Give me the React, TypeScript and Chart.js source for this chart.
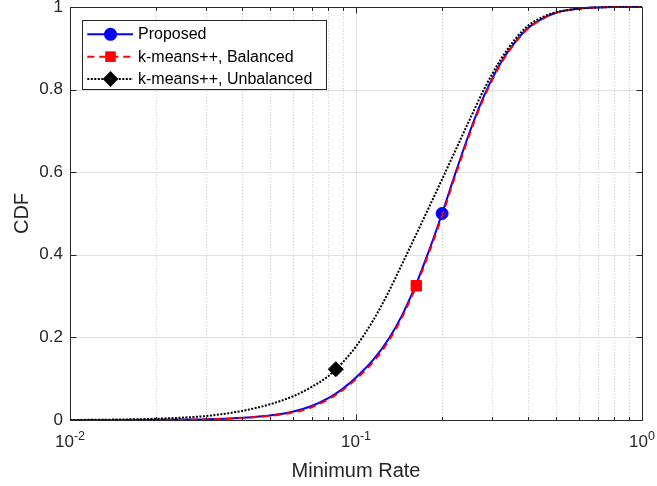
import React, { useEffect, useRef } from 'react';
import { Chart, registerables } from 'chart.js';

Chart.register(...registerables);

// ---------- data ----------
const xValues = [
  0.01, 0.015, 0.02, 0.025, 0.03, 0.04, 0.05, 0.06, 0.07, 0.08, 0.085, 0.09,
  0.1, 0.115, 0.13, 0.145, 0.1625, 0.18, 0.2, 0.22, 0.25, 0.28, 0.32, 0.36,
  0.4, 0.45, 0.5, 0.6, 0.7, 0.8, 0.9, 1.0,
];
const proposed = [
  0, 0.0002, 0.0005, 0.001, 0.0017, 0.0055, 0.011, 0.02, 0.034, 0.053, 0.064, 0.076,
  0.103, 0.146, 0.196, 0.254, 0.33, 0.41, 0.5, 0.587, 0.698, 0.784, 0.864, 0.915,
  0.949, 0.972, 0.986, 0.996, 0.999, 1, 1, 1,
];
const balanced = [
  0, 0.0001, 0.0004, 0.0008, 0.0014, 0.0048, 0.0098, 0.018, 0.031, 0.05, 0.061, 0.073,
  0.099, 0.141, 0.191, 0.249, 0.325, 0.405, 0.494, 0.581, 0.693, 0.78, 0.861, 0.913,
  0.948, 0.972, 0.986, 0.996, 0.999, 1, 1, 1,
];
const unbalanced = [
  0, 0.0012, 0.003, 0.006, 0.0097, 0.022, 0.038, 0.057, 0.08, 0.106, 0.123, 0.14,
  0.178, 0.242, 0.31, 0.378, 0.45, 0.515, 0.583, 0.645, 0.728, 0.8, 0.872, 0.922,
  0.955, 0.976, 0.987, 0.996, 0.999, 1, 1, 1,
];
const seriesNames = ['Proposed', 'k-means++, Balanced', 'k-means++, Unbalanced'];
const markerX = [0.2, 0.1625, 0.085];
const xTickValues = [0.01, 0.1, 1];
const yTickValues = [0, 0.2, 0.4, 0.6, 0.8, 1];
const xTitle = 'Minimum Rate';
const yTitle = 'CDF';

// ---------- styles ----------
const FONT = '"Liberation Sans", Arial, Helvetica, sans-serif';
const AXIS_COLOR = '#262626';
const styles = [
  { color: '#0000ff', dash: [] as number[], point: 'circle', radius: 6 },
  { color: '#ff0000', dash: [7, 5], point: 'rect', radius: 7.4 },
  { color: '#000000', dash: [2, 1.5], point: 'rectRot', radius: 7.5 },
];

const seriesValues = [proposed, balanced, unbalanced];

const matlabPlugin = {
  id: 'matlabAxes',
  beforeDatasetsDraw(chart: any) {
    const { ctx, chartArea, scales } = chart;
    const { left, right, top, bottom } = chartArea;
    const x = scales.x;
    const y = scales.y;
    ctx.save();
    ctx.lineWidth = 1;
    for (let e = -2; e < 0; e++) {
      const d = Math.pow(10, e);
      for (let m = 1; m <= 9; m++) {
        const v = d * m;
        const px = Math.round(x.getPixelForValue(v)) + 0.5;
        ctx.beginPath();
        if (m === 1) {
          ctx.setLineDash([]);
          ctx.strokeStyle = '#dfdfdf';
        } else {
          ctx.setLineDash([1, 2]);
          ctx.strokeStyle = '#cfcfcf';
        }
        ctx.moveTo(px, top);
        ctx.lineTo(px, bottom);
        ctx.stroke();
      }
    }
    ctx.setLineDash([]);
    ctx.strokeStyle = '#dfdfdf';
    for (const v of yTickValues) {
      if (v === 0 || v === 1) continue;
      const py = Math.round(y.getPixelForValue(v)) + 0.5;
      ctx.beginPath();
      ctx.moveTo(left, py);
      ctx.lineTo(right, py);
      ctx.stroke();
    }
    ctx.restore();
  },
  afterDatasetsDraw(chart: any) {
    const { ctx, scales } = chart;
    const x = scales.x;
    const y = scales.y;
    const l = Math.round(x.getPixelForValue(xTickValues[0])) + 0.5;
    const r = Math.round(x.getPixelForValue(xTickValues[xTickValues.length - 1])) + 0.5;
    const b = Math.round(y.getPixelForValue(0)) + 0.5;
    const t = Math.round(y.getPixelForValue(1)) + 0.5;
    ctx.save();
    ctx.strokeStyle = AXIS_COLOR;
    ctx.lineWidth = 1;
    ctx.setLineDash([]);
    ctx.beginPath();
    ctx.rect(l, t, r - l, b - t);
    ctx.stroke();
    ctx.beginPath();
    for (let e = -2; e < 0; e++) {
      const d = Math.pow(10, e);
      for (let m = 1; m <= 9; m++) {
        const px = Math.round(x.getPixelForValue(d * m)) + 0.5;
        const len = m === 1 ? 6 : 3.5;
        ctx.moveTo(px, b);
        ctx.lineTo(px, b - len);
        ctx.moveTo(px, t);
        ctx.lineTo(px, t + len);
      }
    }
    for (const v of yTickValues) {
      const py = Math.round(y.getPixelForValue(v)) + 0.5;
      ctx.moveTo(l, py);
      ctx.lineTo(l + 6, py);
      ctx.moveTo(r, py);
      ctx.lineTo(r - 6, py);
    }
    ctx.stroke();
    ctx.restore();
  },
  afterDraw(chart: any) {
    const { ctx, chartArea, scales } = chart;
    const x = scales.x;
    ctx.save();
    ctx.fillStyle = AXIS_COLOR;
    ctx.textBaseline = 'alphabetic';
    ctx.textAlign = 'left';
    const baseY = chartArea.bottom + 26.5;
    for (const v of xTickValues) {
      const px = x.getPixelForValue(v);
      const exp = String(Math.round(Math.log10(v)));
      ctx.font = `17px ${FONT}`;
      const w1 = ctx.measureText('10').width;
      ctx.font = `12.5px ${FONT}`;
      const w2 = ctx.measureText(exp).width;
      const start = px - (w1 + w2) / 2;
      ctx.font = `17px ${FONT}`;
      ctx.fillText('10', start, baseY);
      ctx.font = `12.5px ${FONT}`;
      ctx.fillText(exp, start + w1, baseY - 7);
    }
    // legend
    ctx.font = `16px ${FONT}`;
    let maxW = 0;
    for (const n of seriesNames) maxW = Math.max(maxW, ctx.measureText(n).width);
    const bx = Math.round(chartArea.left + 12) + 0.5;
    const by = Math.round(chartArea.top + 13) + 0.5;
    const bw = Math.round(55.5 + maxW + 14);
    const bh = 69;
    ctx.fillStyle = '#ffffff';
    ctx.fillRect(bx, by, bw, bh);
    ctx.strokeStyle = AXIS_COLOR;
    ctx.lineWidth = 1;
    ctx.setLineDash([]);
    ctx.strokeRect(bx, by, bw, bh);
    for (let i = 0; i < seriesNames.length; i++) {
      const st = styles[i];
      const cy = by + 13.8 + i * 22.35;
      ctx.strokeStyle = st.color;
      ctx.lineWidth = 2;
      ctx.lineCap = 'butt';
      ctx.setLineDash(st.dash);
      ctx.beginPath();
      ctx.moveTo(bx + 4.8, cy);
      ctx.lineTo(bx + 50.5, cy);
      ctx.stroke();
      ctx.setLineDash([]);
      const mx = bx + 28;
      ctx.fillStyle = st.color;
      ctx.beginPath();
      if (st.point === 'circle') {
        ctx.arc(mx, cy, 6.5, 0, Math.PI * 2);
      } else if (st.point === 'rect') {
        ctx.rect(mx - 5.3, cy - 5.3, 10.6, 10.6);
      } else {
        ctx.moveTo(mx, cy - 8);
        ctx.lineTo(mx + 7.8, cy);
        ctx.lineTo(mx, cy + 8);
        ctx.lineTo(mx - 7.8, cy);
        ctx.closePath();
      }
      ctx.fill();
      ctx.fillStyle = '#000000';
      ctx.font = `16px ${FONT}`;
      ctx.textBaseline = 'middle';
      ctx.textAlign = 'left';
      ctx.fillText(seriesNames[i], bx + 55.5, cy + 0.5);
    }
    ctx.restore();
  },
};

export default function App() {
  const ref = useRef<HTMLCanvasElement | null>(null);

  useEffect(() => {
    if (!ref.current) return;
    const datasets = seriesValues.map((vals, i) => {
      const st = styles[i];
      const mIdx = xValues.indexOf(markerX[i]);
      return {
        label: seriesNames[i],
        data: xValues.map((xv, j) => ({ x: xv, y: vals[j] })),
        borderColor: st.color,
        backgroundColor: st.color,
        borderWidth: 2,
        borderDash: st.dash,
        borderCapStyle: 'butt',
        cubicInterpolationMode: 'monotone',
        pointStyle: st.point,
        pointRadius: xValues.map((_, j) => (j === mIdx ? st.radius : 0)),
        pointHoverRadius: 0,
        pointBorderWidth: 1,
        pointBorderColor: st.color,
        pointBackgroundColor: st.color,
        clip: false,
        order: 3 - i,
      };
    });
    const chart = new Chart(ref.current, {
      type: 'line',
      data: { datasets: datasets as any },
      options: {
        animation: false,
        responsive: false,
        devicePixelRatio: 1,
        events: [],
        layout: { padding: { left: 0, right: 15, top: 7, bottom: 0 } },
        plugins: {
          legend: { display: false },
          tooltip: { enabled: false },
        },
        scales: {
          x: {
            type: 'logarithmic',
            min: xTickValues[0],
            max: xTickValues[xTickValues.length - 1],
            grid: { display: false, drawTicks: false },
            border: { display: false },
            ticks: { display: false },
            title: {
              display: true,
              text: xTitle,
              color: AXIS_COLOR,
              font: { family: FONT, size: 20 },
              padding: { top: 0, bottom: 3 },
            },
            afterFit(scale: any) {
              scale.height = 66;
              scale.paddingLeft = 0;
              scale.paddingRight = 0;
            },
          },
          y: {
            type: 'linear',
            min: 0,
            max: 1,
            grid: { display: false, drawTicks: false },
            border: { display: false },
            afterBuildTicks(scale: any) {
              scale.ticks = yTickValues.map((v) => ({ value: v }));
            },
            ticks: {
              color: AXIS_COLOR,
              font: { family: FONT, size: 17 },
              padding: 7,
              callback: (v: any) => String(v),
            },
            title: {
              display: true,
              text: yTitle,
              color: AXIS_COLOR,
              font: { family: FONT, size: 20 },
              padding: { top: 10, bottom: 0 },
            },
            afterFit(scale: any) {
              scale.width = 70;
              scale.paddingTop = 0;
              scale.paddingBottom = 0;
            },
          },
        },
      },
      plugins: [matlabPlugin],
    });
    return () => chart.destroy();
  }, []);

  return (
    <div style={{ position: 'absolute', left: 0, top: 0, width: 657, height: 486, background: '#fff' }}>
      <canvas ref={ref} width={657} height={486} style={{ display: 'block', width: 657, height: 486 }} />
    </div>
  );
}
